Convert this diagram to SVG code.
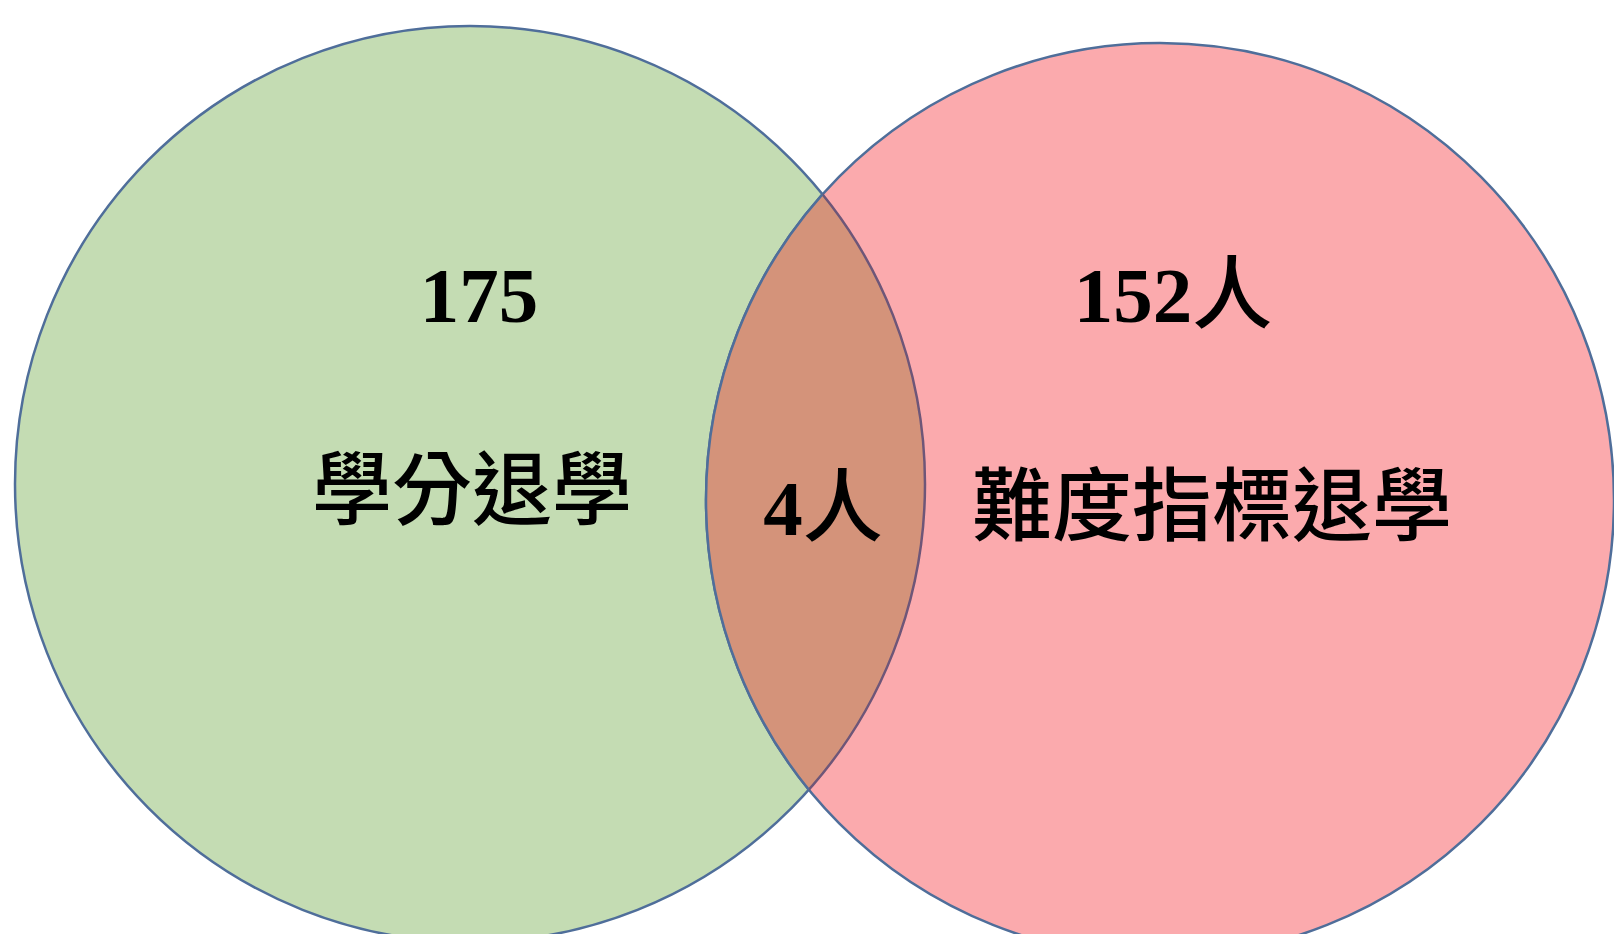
<svg xmlns="http://www.w3.org/2000/svg" width="1614" height="934" viewBox="0 0 1614 934">
<style>
.num{font-family:"Liberation Serif","Noto Sans CJK TC",serif;font-weight:bold;font-size:79px;fill:#000}
.cjk{font-family:"Noto Sans CJK TC","Liberation Serif",sans-serif;font-weight:500;font-size:80px;fill:#000}
</style>
<defs>
<clipPath id="clipL"><ellipse cx="470" cy="484" rx="455" ry="458"/></clipPath>
<clipPath id="clipR"><ellipse cx="1160" cy="500" rx="454" ry="457"/></clipPath>
</defs>
<rect width="1614" height="934" fill="#fff"/>
<g id="set-left">
<ellipse cx="470" cy="484" rx="455" ry="458" fill="#c4dcb3" stroke="#4f6e9a" stroke-width="2.5"/>
</g>
<g id="set-right">
<ellipse cx="1160" cy="500" rx="454" ry="457" fill="#fbaaad" stroke="#4f6e9a" stroke-width="2.5"/>
</g>
<g id="intersection">
<ellipse cx="1160" cy="500" rx="454" ry="457" fill="#d4937a" clip-path="url(#clipL)"/>
<ellipse cx="470" cy="484" rx="455" ry="458" fill="none" stroke="#6e5678" stroke-width="2.5" clip-path="url(#clipR)"/>
<ellipse cx="1160" cy="500" rx="454" ry="457" fill="none" stroke="#4f6e9a" stroke-width="2.5" clip-path="url(#clipL)"/>
</g>
<g id="labels">
<text class="num" x="479" y="322" text-anchor="middle">175</text>
<text class="cjk" x="472" y="518" text-anchor="middle">學分退學</text>
<text class="num" x="1173" y="322" text-anchor="middle">152<tspan class="cjk">人</tspan></text>
<text class="num" x="823" y="535" text-anchor="middle">4<tspan class="cjk">人</tspan></text>
<text class="cjk" x="1212" y="534" text-anchor="middle">難度指標退學</text>
</g>
</svg>
